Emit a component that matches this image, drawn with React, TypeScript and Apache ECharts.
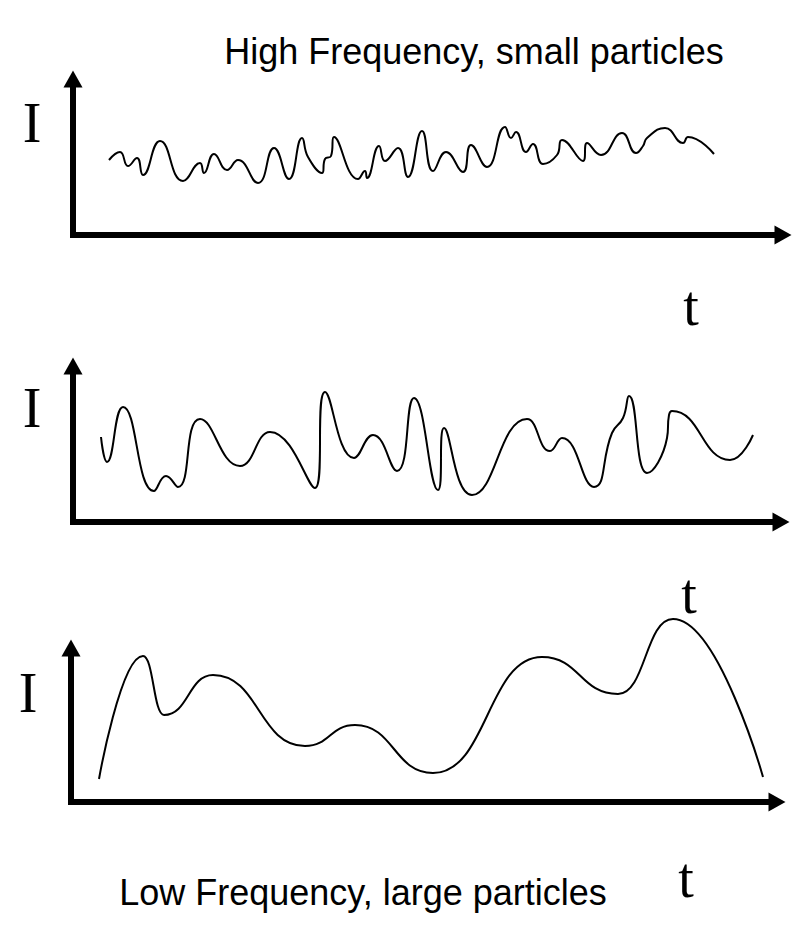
import React, { useEffect, useRef } from "react";
import * as echarts from "echarts";

// Panel 1: high frequency (t, I in arbitrary units)
const hfT = [36, 47, 55, 64, 70, 87, 110, 127, 131, 141, 154, 165, 185, 201, 216, 229, 235, 249, 252, 258, 261, 285, 292, 294, 306, 312, 325, 335, 349, 360, 373, 390, 398, 414, 432, 438, 443, 453, 460, 470, 484, 489, 510, 514, 528, 549, 563, 570, 574, 592, 610, 615, 641];
const hfI = [75, 83, 69, 77, 60, 94, 54, 72, 62, 81, 65, 75, 52, 87, 56, 97, 78, 62, 76, 79, 98, 56, 64, 57, 89, 74, 87, 58, 104, 64, 83, 63, 90, 68, 108, 97, 103, 83, 91, 71, 80, 95, 74, 92, 80, 102, 82, 89, 97, 107, 92, 98, 81];

// Panel 2: medium frequency
const mfT = [28, 34, 50, 81, 93, 105, 127, 167, 197, 242, 252, 281, 300, 324, 341, 365, 371, 399, 454, 477, 489, 521, 539, 550, 556, 574, 594, 596, 599, 657, 680];
const mfI = [85, 60, 115, 31, 46, 35, 103, 56, 90, 34, 130, 64, 87, 51, 124, 32, 94, 27, 103, 71, 84, 35, 89, 104, 126, 49, 84, 107, 111, 62, 87];

// Panel 3: low frequency (peaks and troughs)
const lfT = [28, 72, 93, 142, 234, 284, 362, 471, 547, 602, 692];
const lfI = [23, 146, 87, 127, 56, 77, 29, 145, 108, 183, 25];

const topTitle = "High Frequency, small particles";
const bottomTitle = "Low Frequency, large particles";
const yName = "I";
const xName = "t";

const panels = [
  { t: hfT, i: hfI, left: 73, top: 79, width: 710, height: 156, mono: false },
  { t: mfT, i: mfI, left: 73, top: 366, width: 708, height: 156, mono: false },
  { t: lfT, i: lfI, left: 71, top: 648, width: 706, height: 154, mono: true },
];

export default function App() {
  const ref = useRef<HTMLDivElement>(null);
  useEffect(() => {
    if (!ref.current) return;
    const chart = echarts.init(ref.current, null, { renderer: "svg" });
    const axisLine = {
      show: true,
      symbol: ["none", "triangle"],
      symbolSize: [19, 17],
      lineStyle: { color: "#000", width: 6, cap: "square" },
    };
    const common = {
      axisTick: { show: false },
      axisLabel: { show: false },
      splitLine: { show: false },
      axisLine,
    };
    const sans = "Liberation Sans, Arial, sans-serif";
    const serif = "Liberation Serif, Times New Roman, serif";
    const text = (x: number, y: number, s: string, size: number, family: string) => ({
      type: "text",
      x,
      y,
      style: {
        text: s,
        font: `${size}px ${family}`,
        fill: "#000",
        align: "center",
        verticalAlign: "middle",
      },
    });
    chart.setOption({
      animation: false,
      backgroundColor: "#fff",
      grid: panels.map((p) => ({ left: p.left, top: p.top, width: p.width, height: p.height })),
      xAxis: panels.map((p, k) => ({
        type: "value",
        gridIndex: k,
        min: 0,
        max: p.width,
        ...common,
      })),
      yAxis: panels.map((p, k) => ({
        type: "value",
        gridIndex: k,
        min: 0,
        max: p.height,
        ...common,
      })),
      series: panels.map((p, k) => ({
        type: "line",
        xAxisIndex: k,
        yAxisIndex: k,
        data: p.t.map((t, j) => [t, p.i[j]]),
        smooth: 0.5,
        smoothMonotone: p.mono ? "x" : undefined,
        showSymbol: false,
        clip: false,
        lineStyle: { color: "#000", width: 2 },
      })),
      graphic: [
        text(474, 51, topTitle, 36, sans),
        text(363, 892, bottomTitle, 36, sans),
        text(32, 123, yName, 56, serif),
        text(32, 408, yName, 56, serif),
        text(28, 693, yName, 56, serif),
        text(691, 306, xName, 56, serif),
        text(689, 594, xName, 56, serif),
        text(686, 878, xName, 56, serif),
      ],
    });
    return () => chart.dispose();
  }, []);
  return (
    <div
      ref={ref}
      style={{ position: "fixed", left: 0, top: 0, width: 810, height: 948, background: "#fff" }}
    />
  );
}
